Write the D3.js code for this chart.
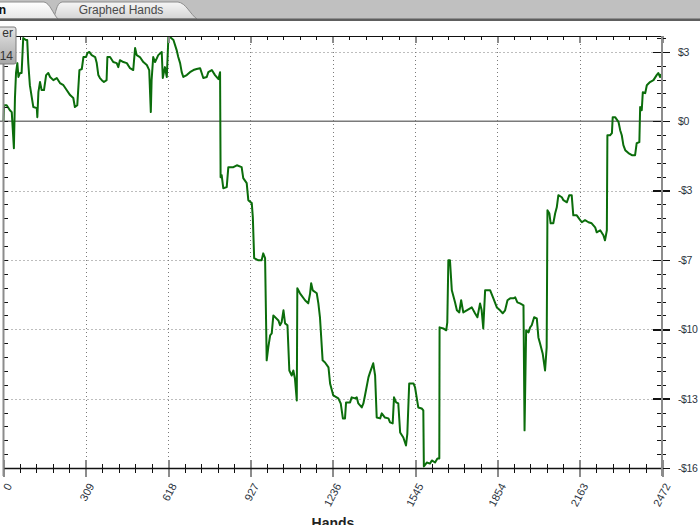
<!DOCTYPE html>
<html>
<head>
<meta charset="utf-8">
<script src="https://cdn.jsdelivr.net/npm/d3@7"></script>
<style>
  body { margin: 0; background: #fff; }
  svg { display: block; }
  .tick line { shape-rendering: crispEdges; }
</style>
</head>
<body>
<div id="canvas"></div>
<script>
// hand number, cumulative winnings ($)
var results = [
  [0,0],[2,0.76],[12,0.76],[24,0.52],[31,0.43],[35,-0.43],[39,-1.29],[43,1.10],[47,2.29],[52,2.76],
  [56,2.10],[62,2.29],[68,2.29],[74,3.95],[84,3.86],[89,3.86],[93,2.76],[99,1.71],[106,1.14],[112,0.67],
  [125,0.62],[127,0.19],[131,1.38],[137,1.86],[143,1.48],[152,1.48],[160,2.19],[168,2.29],[175,2.10],[187,1.95],
  [200,2.05],[212,1.81],[225,1.71],[237,1.48],[250,1.24],[262,1.10],[268,0.67],[277,0.76],[285,2.43],[294,2.48],
  [300,3.05],[310,3.05],[315,3.24],[322,3.29],[331,3.14],[344,3.05],[350,2.76],[356,2.19],[362,2.05],[369,1.95],
  [377,1.86],[387,1.95],[390,3.05],[400,3.05],[412,2.81],[425,2.76],[431,2.57],[437,2.90],[450,2.81],[463,2.76],
  [475,2.52],[487,2.43],[494,3.48],[500,3.14],[512,3.05],[525,2.81],[538,2.67],[547,2.43],[553,0.43],[556,1.95],
  [562,3.05],[569,2.81],[581,3.14],[594,3.29],[598,2.05],[606,2.57],[613,2.10],[619,4.00],[625,4.00],[638,3.86],
  [650,3.38],[656,3.05],[663,2.76],[669,2.33],[675,2.10],[688,2.19],[700,2.33],[713,2.43],[725,2.48],[738,2.52],
  [744,2.29],[750,2.05],[763,2.10],[769,2.33],[782,2.43],[794,2.19],[807,2.00],[813,2.33],
  [815,-2.67],[819,-2.57],[825,-3.19],[838,-3.14],[844,-2.19],[863,-2.19],[876,-2.10],[894,-2.19],[900,-2.71],[913,-2.95],
  [919,-3.76],[932,-3.90],[936,-4.57],[941,-6.52],[957,-6.62],[969,-6.62],[975,-6.29],[982,-6.52],[988,-11.38],[994,-10.76],
  [1001,-10.19],[1007,-10.10],[1013,-9.24],[1032,-9.48],[1038,-9.71],[1044,-9.57],[1051,-9.00],[1057,-9.62],[1066,-9.71],[1073,-11.86],
  [1082,-12.10],[1088,-11.86],[1094,-12.24],[1101,-13.29],[1103,-7.95],[1113,-8.19],[1132,-8.52],[1144,-8.67],[1151,-8.19],[1155,-7.71],
  [1161,-8.05],[1176,-8.19],[1182,-8.67],[1188,-9.33],[1198,-11.38],[1207,-11.48],[1220,-11.71],[1226,-12.48],[1238,-13.05],[1257,-13.19],
  [1266,-13.43],[1274,-14.14],[1282,-14.14],[1286,-13.38],[1301,-13.38],[1307,-13.14],[1320,-13.19],[1326,-13.14],[1332,-13.43],[1345,-13.62],
  [1351,-13.43],[1357,-13.05],[1370,-12.19],[1376,-11.95],[1388,-11.52],[1395,-12.10],[1401,-14.10],[1414,-14.14],[1420,-13.90],[1432,-14.10],
  [1445,-14.14],[1451,-14.33],[1461,-14.38],[1466,-13.14],[1474,-13.38],[1482,-13.43],[1489,-14.81],[1501,-15.05],[1511,-15.43],[1516,-14.86],
  [1523,-12.48],[1539,-12.48],[1545,-12.67],[1551,-13.14],[1557,-13.62],[1570,-13.67],[1576,-13.76],[1578,-16.43],[1589,-16.24],[1601,-16.29],
  [1608,-16.14],[1620,-16.24],[1629,-16.05],[1636,-16.05],
  [1637,-9.81],[1651,-9.86],[1662,-9.95],[1666,-9.57],[1670,-6.62],[1676,-6.62],[1683,-8.05],[1695,-8.62],[1702,-9.00],[1711,-9.10],
  [1718,-8.52],[1726,-9.10],[1739,-9.00],[1758,-8.86],[1770,-9.14],[1779,-9.33],[1789,-8.67],[1795,-9.00],[1801,-9.86],[1808,-8.05],
  [1827,-8.05],[1839,-8.43],[1852,-8.86],[1864,-9.00],[1874,-9.14],[1883,-9.00],[1892,-8.52],[1902,-8.43],[1914,-8.43],[1921,-8.38],
  [1929,-8.62],[1939,-8.67],[1952,-8.76],[1956,-14.71],[1962,-9.95],[1971,-10.05],[1977,-9.81],[1983,-9.71],[1992,-9.33],[2002,-9.38],
  [2008,-10.29],[2014,-10.57],[2024,-11.05],[2033,-11.86],[2039,-10.76],[2042,-4.24],[2049,-4.38],[2054,-4.86],[2064,-4.86],[2071,-4.38],
  [2077,-4.10],[2083,-3.52],[2096,-3.62],[2102,-3.76],[2115,-3.86],[2124,-3.52],[2133,-3.52],[2139,-4.48],[2152,-4.48],[2165,-4.71],
  [2171,-4.81],[2183,-4.71],[2196,-4.81],[2208,-4.86],[2221,-5.05],[2227,-5.29],[2240,-5.19],[2252,-5.43],[2258,-5.67],[2265,-5.19],
  [2267,-0.67],[2277,-0.67],[2284,-0.57],[2287,0.19],[2296,0.19],[2309,-0.05],[2315,-0.43],[2321,-0.67],[2327,-1.14],[2334,-1.38],
  [2346,-1.52],[2359,-1.62],[2371,-1.62],[2377,-1.05],[2387,-1.00],[2390,0.67],[2396,0.52],[2400,1.38],[2409,1.33],[2415,1.71],
  [2427,1.86],[2440,1.95],[2452,2.19],[2458,2.29],[2465,2.10],[2468,2.24]
];

var xTicks = [0, 309, 618, 927, 1236, 1545, 1854, 2163, 2472];
var yTicks = [3.3, 0, -3.3, -6.6, -9.9, -13.2, -16.5];
var yLabels = ['$3', '$0', '-$3', '-$7', '-$10', '-$13', '-$16'];
var tabNames = ['n', 'Graphed Hands'];
var boxLines = ['er', '14'];

var W = 700, H = 525;
var line_color = '#0b6d0b',
  grid_color = '#7a7a7a',
  axis_grey = '#8c8c8c',
  label_color = '#2b3340';

var svg = d3.select('#canvas').append('svg')
  .attr('width', W)
  .attr('height', H)
  .style('font-family', '"Liberation Sans", Arial, sans-serif');

var x = d3.scaleLinear().domain([0, 2472]).range([3.5, 662]);
var y = d3.scaleLinear().domain([-16.5, 4.05]).range([468, 36]);

var xMinor = d3.range(0, 41).map(function(i) { return i * 309 / 5; });
var yMinor = d3.range(-25, 7).map(function(i) { return i * 0.66; });

// grid
svg.append('g').selectAll('line.gx')
  .data(xTicks.slice(1, -1)).enter().append('line')
  .attr('x1', function(d) { return Math.round(x(d)) + 0.5; })
  .attr('x2', function(d) { return Math.round(x(d)) + 0.5; })
  .attr('y1', y.range()[1]).attr('y2', y.range()[0])
  .attr('stroke', grid_color).attr('stroke-dasharray', '1,3');
svg.append('g').selectAll('line.gy')
  .data(yTicks.filter(function(d) { return d !== 0 && d > -16; })).enter().append('line')
  .attr('x1', x.range()[0]).attr('x2', x.range()[1])
  .attr('y1', function(d) { return Math.round(y(d)) + 0.5; })
  .attr('y2', function(d) { return Math.round(y(d)) + 0.5; })
  .attr('stroke', grid_color).attr('stroke-dasharray', '1,3');

// zero line
svg.append('line')
  .attr('x1', 0).attr('x2', x.range()[1])
  .attr('y1', y(0)).attr('y2', y(0))
  .attr('stroke', '#7a7a7a').attr('stroke-width', 1.5);

// winnings line
var line = d3.line()
  .x(function(d) { return x(d[0]); })
  .y(function(d) { return y(d[1]); });
svg.append('path')
  .datum(results)
  .attr('d', line)
  .attr('fill', 'none')
  .attr('stroke', line_color)
  .attr('stroke-width', 2)
  .attr('stroke-linejoin', 'round');

function styleAxis(g, color, width) {
  g.select('.domain').remove();
  g.selectAll('.tick line').attr('stroke', color).attr('stroke-width', width);
  g.selectAll('.tick text').remove();
}

// bottom axis
svg.append('g').attr('transform', 'translate(0,464)')
  .call(d3.axisBottom(x).tickValues(xMinor).tickSize(9).tickSizeOuter(0))
  .call(styleAxis, '#111', 1);
svg.append('g').attr('transform', 'translate(0,460)')
  .call(d3.axisBottom(x).tickValues(xTicks).tickSize(17).tickSizeOuter(0))
  .call(styleAxis, axis_grey, 2);
svg.append('line')
  .attr('x1', x.range()[0]).attr('x2', x.range()[1] + 1)
  .attr('y1', 468.5).attr('y2', 468.5)
  .attr('stroke', '#111').attr('stroke-width', 1.5);

// top axis
svg.append('g').attr('transform', 'translate(0,36)')
  .call(d3.axisBottom(x).tickValues(xMinor).tickSize(4).tickSizeOuter(0))
  .call(styleAxis, '#111', 1);
svg.append('g').attr('transform', 'translate(0,36)')
  .call(d3.axisBottom(x).tickValues(xTicks).tickSize(7).tickSizeOuter(0))
  .call(styleAxis, axis_grey, 2);
svg.append('line')
  .attr('x1', 0).attr('x2', x.range()[1])
  .attr('y1', 36.5).attr('y2', 36.5)
  .attr('stroke', '#111').attr('stroke-width', 1);

// x labels
var xl = svg.append('g').attr('transform', 'translate(0,468)')
  .call(d3.axisBottom(x).tickValues(xTicks).tickSize(0).tickSizeOuter(0).tickFormat(d3.format('d')));
xl.select('.domain').remove();
xl.selectAll('.tick text')
  .attr('y', 0).attr('dy', '0.35em')
  .attr('transform', 'translate(5,16) rotate(-62)')
  .style('text-anchor', 'end')
  .attr('fill', label_color)
  .style('font-size', '11px')
  .style('font-family', '"Liberation Sans", Arial, sans-serif');

// right axis
svg.append('g').attr('transform', 'translate(657,0)')
  .call(d3.axisRight(y).tickValues(yMinor).tickSize(9).tickSizeOuter(0))
  .call(styleAxis, '#111', 1);
svg.append('g').attr('transform', 'translate(653,0)')
  .call(d3.axisRight(y).tickValues(yTicks).tickSize(17).tickSizeOuter(0))
  .call(styleAxis, '#111', 1.5);
svg.append('line')
  .attr('x1', 662).attr('x2', 662)
  .attr('y1', 36).attr('y2', 476)
  .attr('stroke', axis_grey).attr('stroke-width', 2);

// left axis
svg.append('g').attr('transform', 'translate(3,0)')
  .call(d3.axisRight(y).tickValues(yMinor).tickSize(5).tickSizeOuter(0))
  .call(styleAxis, '#111', 1);
svg.append('line')
  .attr('x1', 3.5).attr('x2', 3.5)
  .attr('y1', 36).attr('y2', 476)
  .attr('stroke', axis_grey).attr('stroke-width', 2);

// y labels
var yl = svg.append('g').attr('transform', 'translate(678,0)')
  .call(d3.axisRight(y).tickValues(yTicks).tickSize(0).tickPadding(0).tickFormat(function(d, i) { return yLabels[i]; }));
yl.select('.domain').remove();
yl.selectAll('.tick text')
  .attr('fill', label_color)
  .style('font-size', '10.5px')
  .style('letter-spacing', '-0.4px')
  .style('font-family', '"Liberation Sans", Arial, sans-serif');

// axis title (cut by the window bottom, as in the original)
svg.append('text')
  .attr('x', 333).attr('y', 528)
  .attr('text-anchor', 'middle')
  .style('font-size', '14px').style('font-weight', 'bold')
  .attr('fill', '#222')
  .text('Hands');

// tab strip
var defs = svg.append('defs');
var g1 = defs.append('linearGradient').attr('id', 'tabOn').attr('x1', 0).attr('y1', 0).attr('x2', 0).attr('y2', 1);
g1.append('stop').attr('offset', '0%').attr('stop-color', '#ffffff');
g1.append('stop').attr('offset', '100%').attr('stop-color', '#e6e6e6');
var g2 = defs.append('linearGradient').attr('id', 'tabOff').attr('x1', 0).attr('y1', 0).attr('x2', 0).attr('y2', 1);
g2.append('stop').attr('offset', '0%').attr('stop-color', '#f6f6f6');
g2.append('stop').attr('offset', '100%').attr('stop-color', '#d4d4d4');
var g3 = defs.append('linearGradient').attr('id', 'boxFill').attr('x1', 0).attr('y1', 0).attr('x2', 0).attr('y2', 1);
g3.append('stop').attr('offset', '0%').attr('stop-color', '#e4e4e4');
g3.append('stop').attr('offset', '100%').attr('stop-color', '#a8a8a8');

svg.append('rect').attr('x', 0).attr('y', 0).attr('width', W).attr('height', 19).attr('fill', '#c0c0c0');
svg.append('path')
  .attr('d', 'M53,19 C56,14 56,3 62,2 L178,2 C186,3 190,14 197,19 Z')
  .attr('fill', 'url(#tabOff)').attr('stroke', '#8e8e8e');
svg.append('path')
  .attr('d', 'M-5,19 L-5,2 L44,2 C50,3 53,14 58,19 Z')
  .attr('fill', 'url(#tabOn)').attr('stroke', '#8e8e8e');
svg.append('rect').attr('x', 0).attr('y', 18.5).attr('width', W).attr('height', 2.5).attr('fill', '#5e5e5e');
svg.append('text').attr('x', 6).attr('y', 14)
  .attr('text-anchor', 'end')
  .style('font-size', '12px').style('font-weight', 'bold')
  .attr('fill', '#111').text(tabNames[0]);
svg.append('text').attr('x', 121).attr('y', 14)
  .attr('text-anchor', 'middle')
  .style('font-size', '12px')
  .attr('fill', '#4a4a4a').text(tabNames[1]);

// half hidden info box
svg.append('rect')
  .attr('x', -10).attr('y', 27).attr('width', 26).attr('height', 37).attr('rx', 2)
  .attr('fill', 'url(#boxFill)').attr('stroke', '#7c7c7c');
svg.selectAll('text.box').data(boxLines).enter().append('text')
  .attr('x', 13).attr('y', function(d, i) { return 37 + i * 23; })
  .attr('text-anchor', 'end')
  .style('font-size', '12px')
  .attr('fill', '#333')
  .text(function(d) { return d; });
</script>
</body>
</html>
